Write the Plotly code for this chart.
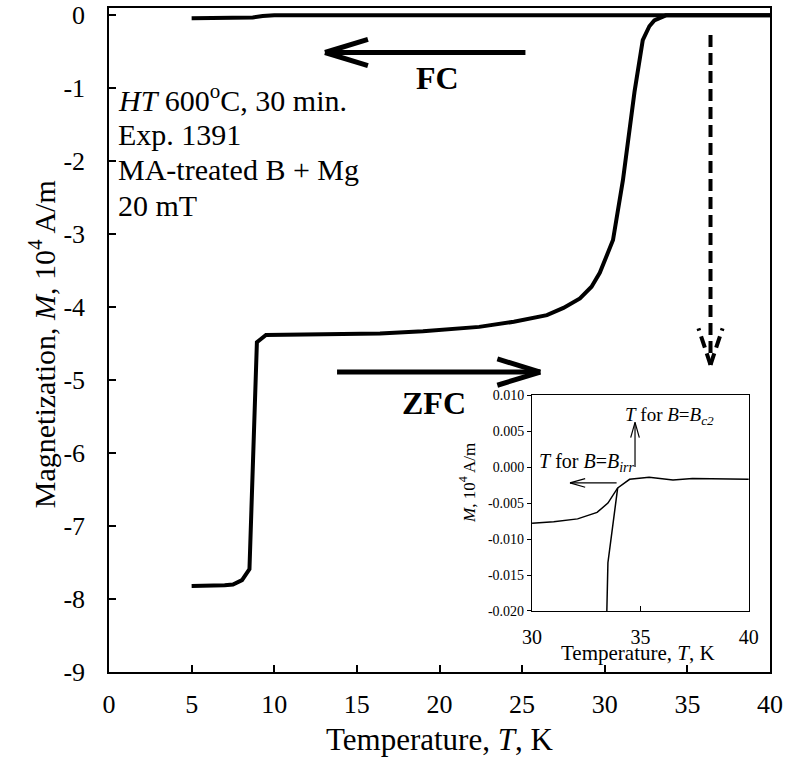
import plotly.graph_objects as go

# ---------------- data ----------------
zfc_T = [5, 6, 7, 7.5, 8.05, 8.5, 8.95, 9.5, 11, 13, 16.4, 19, 22.4, 24.5, 26.5, 27.5, 28.5,
         29.2, 29.7, 30.1, 30.5, 31.1, 31.8, 32.3, 32.7, 33.0, 33.7, 35, 40]
zfc_M = [-7.82, -7.82, -7.81, -7.80, -7.74, -7.59, -4.48, -4.38, -4.37, -4.37, -4.36, -4.33,
         -4.27, -4.20, -4.11, -4.01, -3.88, -3.72, -3.53, -3.32, -3.08, -2.26, -1.05, -0.34,
         -0.15, -0.07, 0.0, 0.0, 0.0]
fc_T = [5, 8, 8.7, 9.3, 10, 20, 30, 40]
fc_M = [-0.04, -0.04, -0.03, -0.01, 0.0, 0.0, 0.0, 0.0]

ins_fc_T = [30, 31, 32.1, 33.0, 33.5, 33.95, 34.5, 35.4, 36.5, 37.4, 40]
ins_fc_M = [-0.0078, -0.0076, -0.0072, -0.0063, -0.0050, -0.0029, -0.0017, -0.0014,
            -0.0018, -0.0016, -0.0017]
ins_zfc_T = [33.45, 33.5, 33.95]
ins_zfc_M = [-0.020, -0.0133, -0.0029]

main_xticks = [0, 5, 10, 15, 20, 25, 30, 35, 40]
main_yticks = [0, -1, -2, -3, -4, -5, -6, -7, -8, -9]
main_yticktext = ["0", "-1", "-2", "-3", "-4", "-5", "-6", "-7", "-8", "-9"]
ins_xticks = [30, 35, 40]
ins_yticks = [0.010, 0.005, 0.000, -0.005, -0.010, -0.015, -0.020]
ins_yticktext = ["0.010", "0.005", "0.000", "-0.005", "-0.010", "-0.015", "-0.020"]

FONT = "Liberation Serif"

fig = go.Figure()
fig.add_trace(go.Scatter(x=zfc_T, y=zfc_M, mode="lines", line=dict(color="black", width=4),
                         xaxis="x", yaxis="y", showlegend=False))
fig.add_trace(go.Scatter(x=fc_T, y=fc_M, mode="lines", line=dict(color="black", width=4),
                         xaxis="x", yaxis="y", showlegend=False))
fig.add_trace(go.Scatter(x=ins_fc_T, y=ins_fc_M, mode="lines", line=dict(color="black", width=1.5),
                         xaxis="x2", yaxis="y2", showlegend=False))
fig.add_trace(go.Scatter(x=ins_zfc_T, y=ins_zfc_M, mode="lines", line=dict(color="black", width=1.5),
                         xaxis="x2", yaxis="y2", showlegend=False))

# ---------------- arrows (open chevron heads) ----------------
def arrow(x0, y0, x1, y1, hx, hy, xref, yref, width, dash="solid"):
    fig.add_shape(type="line", x0=x0, y0=y0, x1=x1, y1=y1, xref=xref, yref=yref,
                  line=dict(color="black", width=width, dash=dash))
    if y0 == y1:  # horizontal
        s = -1 if x1 > x0 else 1
        for d in (1, -1):
            fig.add_shape(type="line", x0=x1, y0=y1, x1=x1 + s * hx, y1=y1 + d * hy,
                          xref=xref, yref=yref, line=dict(color="black", width=width, dash=dash))
    else:  # vertical
        s = -1 if y1 > y0 else 1
        for d in (1, -1):
            fig.add_shape(type="line", x0=x1, y0=y1, x1=x1 + d * hx, y1=y1 + s * hy,
                          xref=xref, yref=yref, line=dict(color="black", width=width, dash=dash))

arrow(25.2, -0.51, 13.07, -0.51, 2.6, 0.18, "x", "y", 5)
arrow(13.8, -4.89, 26.1, -4.89, 2.6, 0.18, "x", "y", 5)
arrow(36.4, -0.27, 36.4, -4.79, 0.73, 0.5, "x", "y", 4, dash="12px,6px")
arrow(34.75, 0.0, 34.75, 0.0062, 0.2, 0.0021, "x2", "y2", 1.2)
arrow(33.9, -0.0022, 31.75, -0.0022, 0.7, 0.0006, "x2", "y2", 1.2)

# ---------------- text ----------------
ann = []
lines = ["<i>HT</i> 600<sup>o</sup>C, 30 min.", "Exp. 1391", "MA-treated B + Mg", "20 mT"]
ys = [-1.14, -1.63, -2.11, -2.60]
for t, yv in zip(lines, ys):
    ann.append(dict(x=0.45, y=yv, xref="x", yref="y", text=t, showarrow=False,
                    xanchor="left", yanchor="middle", font=dict(family=FONT, size=30, color="black")))
ann.append(dict(x=19.85, y=-0.86, xref="x", yref="y", text="<b>FC</b>", showarrow=False,
                font=dict(family=FONT, size=32, color="black")))
ann.append(dict(x=19.67, y=-5.31, xref="x", yref="y", text="<b>ZFC</b>", showarrow=False,
                font=dict(family=FONT, size=32, color="black")))
ann.append(dict(x=0.50, y=-0.102, xref="paper", yref="paper", text="Temperature, <i>T</i>, K",
                showarrow=False, xanchor="center", yanchor="middle",
                font=dict(family=FONT, size=31, color="black")))
ann.append(dict(x=-0.101, y=0.494, xref="paper", yref="paper",
                text="Magnetization, <i>M</i>, 10<sup>4</sup> A/m", textangle=-90,
                showarrow=False, xanchor="center", yanchor="middle",
                font=dict(family=FONT, size=30, color="black")))
# inset labels
ann.append(dict(x=34.9, y=0.029, xref="x2", yref="paper", text="Temperature, <i>T</i>, K",
                showarrow=False, xanchor="center", yanchor="middle",
                font=dict(family=FONT, size=21, color="black")))
ann.append(dict(x=0.542, y=0.285, xref="paper", yref="paper", text="<i>M</i>, 10<sup>4</sup> A/m",
                textangle=-90, showarrow=False, xanchor="center", yanchor="middle",
                font=dict(family=FONT, size=17, color="black")))
ann.append(dict(x=34.2, y=0.0071, xref="x2", yref="y2",
                text="<i>T</i> for <i>B</i>=<i>B</i><sub><i>c2</i></sub>",
                showarrow=False, xanchor="left", yanchor="middle",
                font=dict(family=FONT, size=19, color="black")))
ann.append(dict(x=30.25, y=0.0007, xref="x2", yref="y2",
                text="<i>T</i> for <i>B</i>=<i>B</i><sub><i>irr</i></sub>",
                showarrow=False, xanchor="left", yanchor="middle",
                font=dict(family=FONT, size=20, color="black")))

fig.update_layout(
    width=786, height=775,
    margin=dict(l=109, r=16, t=8, b=103, autoexpand=False),
    paper_bgcolor="white", plot_bgcolor="white",
    font=dict(family=FONT, color="black"),
    annotations=ann,
    xaxis=dict(range=[0, 40], tickvals=main_xticks, ticks="inside", ticklen=7, tickwidth=1.5,
               tickcolor="black", showline=True, linecolor="black", linewidth=1.5, mirror=True,
               showgrid=False, zeroline=False, tickfont=dict(family=FONT, size=26, color="black"),
               ticklabelstandoff=8, domain=[0, 1], automargin=False),
    yaxis=dict(range=[-9, 0.1], tickvals=main_yticks, ticktext=main_yticktext, ticks="inside",
               ticklen=7, tickwidth=1.5,
               tickcolor="black", showline=True, linecolor="black", linewidth=1.5, mirror=True,
               showgrid=False, zeroline=False, tickfont=dict(family=FONT, size=26, color="black"),
               ticklabelstandoff=17, domain=[0, 1], automargin=False),
    xaxis2=dict(range=[30, 40], tickvals=ins_xticks, ticks="inside", ticklen=5, tickwidth=1,
                tickcolor="black", showline=True, linecolor="black", linewidth=1.2, mirror=True,
                showgrid=False, zeroline=False, tickfont=dict(family=FONT, size=20, color="black"),
                ticklabelstandoff=8, domain=[0.640, 0.968], anchor="y2", automargin=False),
    yaxis2=dict(range=[-0.020, 0.010], tickvals=ins_yticks, ticktext=ins_yticktext,
                ticks="outside", ticklen=4, tickwidth=1, tickcolor="black", showline=True,
                linecolor="black", linewidth=1.2, mirror=True, showgrid=False, zeroline=False,
                tickfont=dict(family=FONT, size=14, color="black"),
                domain=[0.0919, 0.417], anchor="x2", automargin=False),
)

fig.write_html("out.html")
